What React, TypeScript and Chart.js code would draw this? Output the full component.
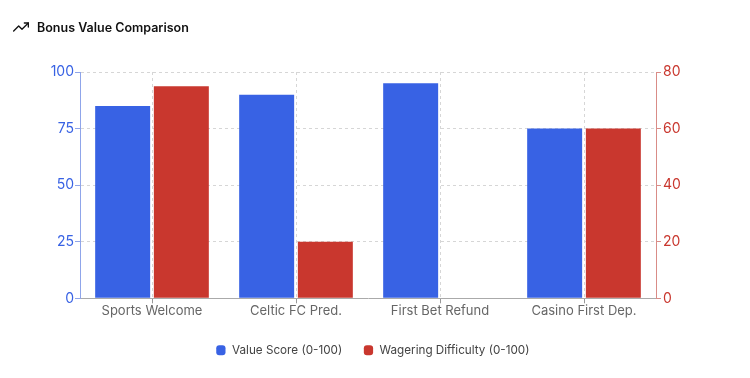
import React, { useEffect, useRef } from "react";
import { Chart, registerables } from "chart.js";

Chart.register(...registerables);

const categories = ["Sports Welcome", "Celtic FC Pred.", "First Bet Refund", "Casino First Dep."];
const valueScore = [85, 90, 95, 75];
const wageringDifficulty = [75, 20, 0, 60];
const leftTicks = [0, 25, 50, 75, 100];
const rightTicks = [0, 20, 40, 60, 80];
const titleText = "Bonus Value Comparison";
const FONT = "Inter, 'Liberation Sans', sans-serif";

export default function App() {
  const ref = useRef<HTMLCanvasElement>(null);
  useEffect(() => {
    document.body.style.margin = "0";
    document.body.style.background = "#fff";
    const chart = new Chart(ref.current!, {
      type: "bar",
      data: {
        labels: categories,
        datasets: [
          { label: "Value Score (0-100)", data: valueScore, yAxisID: "y", backgroundColor: "#3862e4", borderWidth: 0 },
          { label: "Wagering Difficulty (0-100)", data: wageringDifficulty, yAxisID: "y1", backgroundColor: "#c9372e", borderWidth: 0 },
        ],
      },
      options: {
        responsive: false,
        animation: false,
        datasets: { bar: { categoryPercentage: 0.815, barPercentage: 0.937 } },
        layout: { padding: { left: 40, right: 45, top: 72, bottom: 12 } },
        plugins: {
          title: { display: false },
          tooltip: { enabled: false },
          legend: {
            position: "bottom",
            labels: {
              usePointStyle: true,
              pointStyle: "rectRounded",
              boxWidth: 8.25,
              boxHeight: 8.25,
              pointStyleWidth: 10.6,
              padding: 21,
              color: "#444",
              font: { family: FONT, size: 11.7 },
            },
          },
        },
        scales: {
          x: {
            grid: { offset: false, color: "#d6d6d6", tickColor: "#999", tickLength: 5, tickBorderDash: [] } as any,
            border: { color: "#aaa", dash: [3, 3] },
            ticks: { color: "#666", font: { family: FONT, size: 13 }, padding: 0, maxRotation: 0 },
            afterFit: (s: any) => { s.height = 25; },
          },
          y: {
            position: "left",
            min: 0,
            max: 100,
            afterBuildTicks: (s: any) => { s.ticks = leftTicks.map((v) => ({ value: v })); },
            grid: { color: "#d6d6d6", tickColor: "#8fa5ea", tickLength: 5, tickBorderDash: [] } as any,
            border: { color: "#8fa5ea", dash: [3, 3] },
            ticks: { color: "#3862e4", font: { family: FONT, size: 14 }, padding: 1 },
            afterFit: (s: any) => { s.width = 40; },
          },
          y1: {
            position: "right",
            min: 0,
            max: 80,
            afterBuildTicks: (s: any) => { s.ticks = rightTicks.map((v) => ({ value: v })); },
            grid: { drawOnChartArea: false, tickColor: "#d98c87", tickLength: 5 },
            border: { color: "#d98c87" },
            ticks: { color: "#c9372e", font: { family: FONT, size: 14 }, padding: 2 },
            afterFit: (s: any) => { s.width = 49; },
          },
        },
      },
    } as any);
    return () => chart.destroy();
  }, []);
  return (
    <div style={{ position: "relative", width: 750, height: 378, overflow: "hidden", background: "#fff" }}>
      <canvas ref={ref} width={750} height={378} style={{ display: "block", position: "absolute", left: 0, top: 0 }} />
      <svg width="16" height="16" viewBox="0 0 24 24" fill="none" stroke="#111" strokeWidth="2" strokeLinecap="round" strokeLinejoin="round" style={{ position: "absolute", left: 13, top: 19 }}>
        <polyline points="23 6 13.5 15.5 8.5 10.5 1 18" />
        <polyline points="17 6 23 6 23 12" />
      </svg>
      <div style={{ position: "absolute", left: 37, top: 18.5, fontFamily: FONT, fontSize: 12.5, fontWeight: 600, lineHeight: "18px", color: "#111", whiteSpace: "nowrap" }}>{titleText}</div>
    </div>
  );
}
